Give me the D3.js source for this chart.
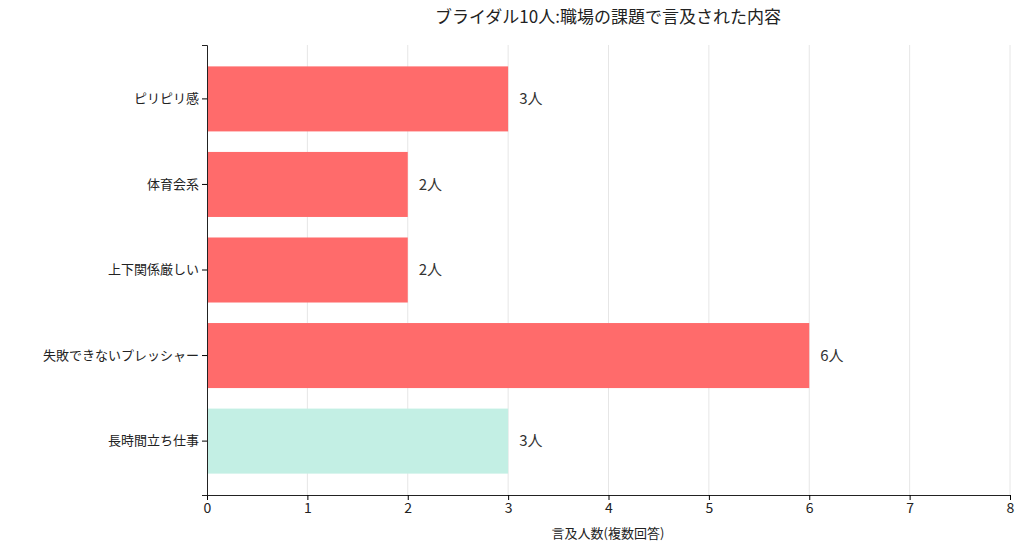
<!DOCTYPE html>
<html><head><meta charset="utf-8">
<script src="https://cdn.jsdelivr.net/npm/d3@7"></script>
<style>body{margin:0;background:#fff}text{font-family:"Noto Sans CJK JP","Noto Sans",sans-serif}</style>
</head><body><svg id="c" width="1024" height="551"></svg>
<script>
const categories=["ピリピリ感","体育会系","上下関係厳しい","失敗できないプレッシャー","長時間立ち仕事"];
const values=[3,2,2,6,3];
const colors=["#FF6B6B","#FF6B6B","#FF6B6B","#FF6B6B","#C3EFE4"];
const xTicks=[0,1,2,3,4,5,6,7,8];
const svg=d3.select("#c");
const L=207,R=1010,T=45,B=495;
const x=d3.scaleLinear().domain([0,8]).range([L,R]);
const y=d3.scaleBand().domain(categories).range([T,B]).paddingInner(0.24).paddingOuter(0.25);
svg.append("g").selectAll("line").data(xTicks.slice(1)).join("line")
 .attr("x1",d=>x(d)).attr("x2",d=>x(d)).attr("y1",T).attr("y2",B).attr("stroke","#e6e6e6");
svg.append("g").selectAll("rect").data(categories).join("rect")
 .attr("x",x(0)).attr("y",d=>y(d)).attr("height",y.bandwidth())
 .attr("width",(d,i)=>x(values[i])-x(0)).attr("fill",(d,i)=>colors[i]);
svg.append("g").selectAll("text").data(categories).join("text")
 .attr("x",(d,i)=>x(values[i])+11).attr("y",d=>y(d)+y.bandwidth()/2).attr("dy","0.35em")
 .attr("font-size",15).attr("fill","#333").text((d,i)=>values[i]+"人");
const xa=svg.append("g").attr("transform",`translate(0,${B})`).call(d3.axisBottom(x).tickValues(xTicks).tickSize(5));
xa.selectAll("text").attr("font-size",14).attr("fill","#222");
xa.select(".domain").attr("stroke","#222");
const ya=svg.append("g").attr("transform",`translate(${L},0)`).call(d3.axisLeft(y).tickSize(5));
ya.selectAll("text").attr("font-size",13).attr("fill","#222");
ya.select(".domain").attr("stroke","#222");
svg.append("text").attr("x",608).attr("y",23).attr("text-anchor","middle").attr("font-size",17).attr("fill","#222").text("ブライダル10人:職場の課題で言及された内容");
svg.append("text").attr("x",608).attr("y",538).attr("text-anchor","middle").attr("font-size",13).attr("fill","#222").text("言及人数(複数回答)");
</script></body></html>
